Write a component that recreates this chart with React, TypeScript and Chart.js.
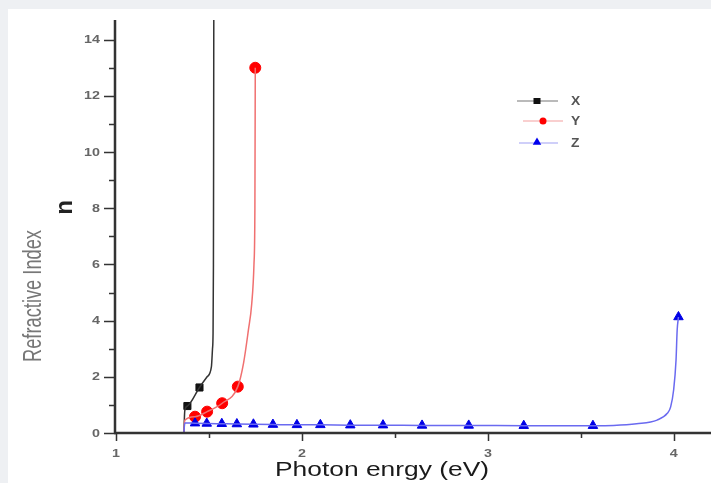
import React, { useEffect, useRef } from 'react';
import { Chart, registerables } from 'chart.js';
Chart.register(...registerables);

// ---- data ----
const xTickValues = [1, 2, 3, 4];
const yTickValues = [0, 2, 4, 6, 8, 10, 12, 14];
const xMinorValues = [1.5, 2.5, 3.5];
const yMinorValues = [1, 3, 5, 7, 9, 11, 13];

// Series X (black, squares)
const xCurveE = [1.365, 1.37, 1.384, 1.449, 1.49, 1.513, 1.519, 1.522, 1.524, 1.525, 1.526];
const xCurveN = [0.0, 0.8, 0.96, 1.62, 2.0, 2.35, 3.0, 3.55, 6.0, 10.0, 15.0];
const xMarkE = [1.384, 1.449];
const xMarkN = [0.96, 1.62];

// Series Y (red, circles)
const yCurveE = [1.365, 1.37, 1.425, 1.49, 1.571, 1.655, 1.686, 1.712, 1.73, 1.742, 1.747, 1.749];
const yCurveN = [0.0, 0.45, 0.58, 0.76, 1.06, 1.65, 2.49, 3.66, 4.6, 6.0, 8.0, 13.0];
const yMarkE = [1.425, 1.49, 1.571, 1.655, 1.749];
const yMarkN = [0.58, 0.76, 1.06, 1.65, 13.0];

// Series Z (blue, triangles)
const zMarkE = [1.425, 1.488, 1.569, 1.65, 1.739, 1.844, 1.973, 2.099, 2.26, 2.436, 2.646, 2.897, 3.193, 3.565, 4.025];
const zMarkN = [0.35, 0.34, 0.33, 0.32, 0.31, 0.3, 0.29, 0.29, 0.28, 0.28, 0.27, 0.27, 0.26, 0.26, 4.13];
const zCurveE = [1.365, 1.37, 1.425, 1.488, 1.569, 1.65, 1.739, 1.844, 1.973, 2.099, 2.26, 2.436, 2.646, 2.897, 3.193, 3.565, 3.676, 3.8, 3.91, 3.965, 3.983, 3.999, 4.012, 4.018, 4.025];
const zCurveN = [0.0, 0.36, 0.35, 0.34, 0.33, 0.32, 0.31, 0.3, 0.29, 0.29, 0.28, 0.28, 0.27, 0.27, 0.26, 0.26, 0.27, 0.33, 0.46, 0.7, 0.93, 1.53, 2.6, 3.66, 4.13];

const legendLabels = ['X', 'Y', 'Z'];
const xTitle = 'Photon enrgy (eV)';
const yTitle = 'Refractive Index';
const ySymbol = 'n';

const pts = (e: number[], n: number[]) => e.map((v, i) => ({ x: v, y: n[i] }));

const FAM = '"Liberation Sans", Arial, sans-serif';

function tri(ctx: CanvasRenderingContext2D, x: number, y: number, r: number) {
  ctx.beginPath();
  ctx.moveTo(x, y - r);
  ctx.lineTo(x + r * 0.95, y + r * 0.6);
  ctx.lineTo(x - r * 0.95, y + r * 0.6);
  ctx.closePath();
  ctx.fill();
}

// draw text with a horizontal (along-text) scale factor
function stext(ctx: CanvasRenderingContext2D, t: string, x: number, y: number, sx: number, align: CanvasTextAlign, baseline: CanvasTextBaseline, rot = 0) {
  ctx.save();
  ctx.translate(x, y);
  if (rot) ctx.rotate(rot);
  ctx.scale(sx, 1);
  ctx.textAlign = align;
  ctx.textBaseline = baseline;
  ctx.fillText(t, 0, 0);
  ctx.restore();
}

const decorPlugin = {
  id: 'decor',
  afterDatasetsDraw(chart: any) {
    const ctx: CanvasRenderingContext2D = chart.ctx;
    const xs = chart.scales.x;
    const ys = chart.scales.y;
    const ca = chart.chartArea;
    ctx.save();
    // axes
    ctx.strokeStyle = '#333';
    ctx.lineWidth = 2.5;
    ctx.beginPath();
    ctx.moveTo(ca.left - 1, ca.top);
    ctx.lineTo(ca.left - 1, ca.bottom + 1);
    ctx.moveTo(ca.left - 2, ca.bottom);
    ctx.lineTo(ca.right, ca.bottom);
    ctx.stroke();
    ctx.lineWidth = 1.5;
    ctx.beginPath();
    yTickValues.forEach((v) => {
      const p = Math.round(ys.getPixelForValue(v)) + 0.5;
      ctx.moveTo(ca.left - 12, p);
      ctx.lineTo(ca.left, p);
    });
    yMinorValues.forEach((v) => {
      const p = Math.round(ys.getPixelForValue(v)) + 0.5;
      ctx.moveTo(ca.left - 7, p);
      ctx.lineTo(ca.left, p);
    });
    xTickValues.forEach((v) => {
      const p = Math.round(xs.getPixelForValue(v)) + 0.5;
      ctx.moveTo(p, ca.bottom);
      ctx.lineTo(p, ca.bottom + 8);
    });
    xMinorValues.forEach((v) => {
      const p = Math.round(xs.getPixelForValue(v)) + 0.5;
      ctx.moveTo(p, ca.bottom);
      ctx.lineTo(p, ca.bottom + 5);
    });
    ctx.stroke();

    // tick labels
    ctx.fillStyle = '#666';
    ctx.font = 'bold 11px ' + FAM;
    yTickValues.forEach((v) => {
      stext(ctx, String(v), ca.left - 16, ys.getPixelForValue(v) + 0.5, 1.3, 'right', 'middle');
    });
    xTickValues.forEach((v) => {
      stext(ctx, String(v), xs.getPixelForValue(v), ca.bottom + 21, 1.3, 'center', 'middle');
    });

    // titles
    ctx.fillStyle = '#777';
    ctx.font = '25px ' + FAM;
    const yw = ctx.measureText(yTitle).width;
    stext(ctx, yTitle, 41, 296, 132 / yw, 'center', 'alphabetic', -Math.PI / 2);
    ctx.fillStyle = '#222';
    ctx.font = 'bold 24px ' + FAM;
    stext(ctx, ySymbol, 72, 207.5, 1, 'center', 'alphabetic', -Math.PI / 2);
    ctx.fillStyle = '#1a1a1a';
    ctx.font = '20px ' + FAM;
    const xw = ctx.measureText(xTitle).width;
    stext(ctx, xTitle, 382, 476, 214 / xw, 'center', 'alphabetic');

    // legend
    const rows = [
      { y: 101, x0: 517, x1: 558, m: 537, line: '#777', fill: '#111', shape: 'sq' },
      { y: 121, x0: 523, x1: 563, m: 543, line: '#f4a0a0', fill: '#f00', shape: 'ci' },
      { y: 143, x0: 519, x1: 558, m: 537, line: '#a0a0f4', fill: '#00e', shape: 'tr' },
    ];
    rows.forEach((r, i) => {
      ctx.strokeStyle = r.line;
      ctx.lineWidth = 1.2;
      ctx.beginPath();
      ctx.moveTo(r.x0, r.y);
      ctx.lineTo(r.x1, r.y);
      ctx.stroke();
      ctx.fillStyle = r.fill;
      if (r.shape === 'sq') ctx.fillRect(r.m - 3.5, r.y - 3, 7, 6);
      else if (r.shape === 'ci') {
        ctx.beginPath();
        ctx.arc(r.m, r.y, 3.5, 0, Math.PI * 2);
        ctx.fill();
      } else tri(ctx, r.m, r.y - 1, 4.5);
      ctx.fillStyle = '#555';
      ctx.font = 'bold 12px ' + FAM;
      stext(ctx, legendLabels[i], 571, r.y + 1, 1.15, 'left', 'middle');
    });
    ctx.restore();
  },
};

export default function App() {
  const ref = useRef<HTMLCanvasElement | null>(null);
  useEffect(() => {
    if (!ref.current) return;
    const curve = { showLine: true, borderWidth: 1.5, pointRadius: 0, fill: false, cubicInterpolationMode: 'monotone' };
    const chart = new Chart(ref.current, {
      type: 'scatter',
      data: {
        datasets: [
          { ...curve, data: pts(zCurveE, zCurveN), borderColor: '#6a6af0' },
          { ...curve, data: pts(yCurveE, yCurveN), borderColor: '#f07070' },
          { ...curve, data: pts(xCurveE, xCurveN), borderColor: '#333' },
          { data: pts(zMarkE, zMarkN), showLine: false, pointStyle: 'triangle', pointRadius: 5.5, backgroundColor: '#0000e6', borderColor: '#0000e6', borderWidth: 1 },
          { data: pts(yMarkE, yMarkN), showLine: false, pointStyle: 'circle', pointRadius: 5.5, backgroundColor: '#f00', borderColor: '#f00', borderWidth: 1 },
          { data: pts(xMarkE, xMarkN), showLine: false, pointStyle: 'rect', pointRadius: 5, backgroundColor: '#111', borderColor: '#111', borderWidth: 1 },
        ],
      },
      options: {
        animation: false,
        responsive: false,
        devicePixelRatio: 1,
        layout: { autoPadding: false, padding: { left: 0, right: 0, top: 20, bottom: 0 } },
        plugins: { legend: { display: false }, tooltip: { enabled: false } },
        scales: {
          x: {
            type: 'linear',
            min: 1,
            max: 4.2,
            grid: { display: false, drawTicks: false },
            border: { display: false },
            afterFit: (s: any) => { s.height = 50; },
            afterBuildTicks: (s: any) => { s.ticks = xTickValues.map((v) => ({ value: v })); },
            ticks: { display: false },
          },
          y: {
            type: 'linear',
            min: 0,
            max: 14.7,
            grid: { display: false, drawTicks: false },
            border: { display: false },
            afterFit: (s: any) => { s.width = 116; },
            afterBuildTicks: (s: any) => { s.ticks = yTickValues.map((v) => ({ value: v })); },
            ticks: { display: false },
          },
        },
      },
      plugins: [decorPlugin],
    } as any);
    return () => chart.destroy();
  }, []);
  return (
    <div style={{ position: 'fixed', left: 0, top: 0, width: 711, height: 483, background: '#eef0f3', overflow: 'hidden' }}>
      <div style={{ position: 'absolute', left: 8, top: 9, right: 0, bottom: 0, background: '#fff' }} />
      <canvas ref={ref} width={711} height={483} style={{ position: 'absolute', left: 0, top: 0, width: 711, height: 483 }} />
    </div>
  );
}
